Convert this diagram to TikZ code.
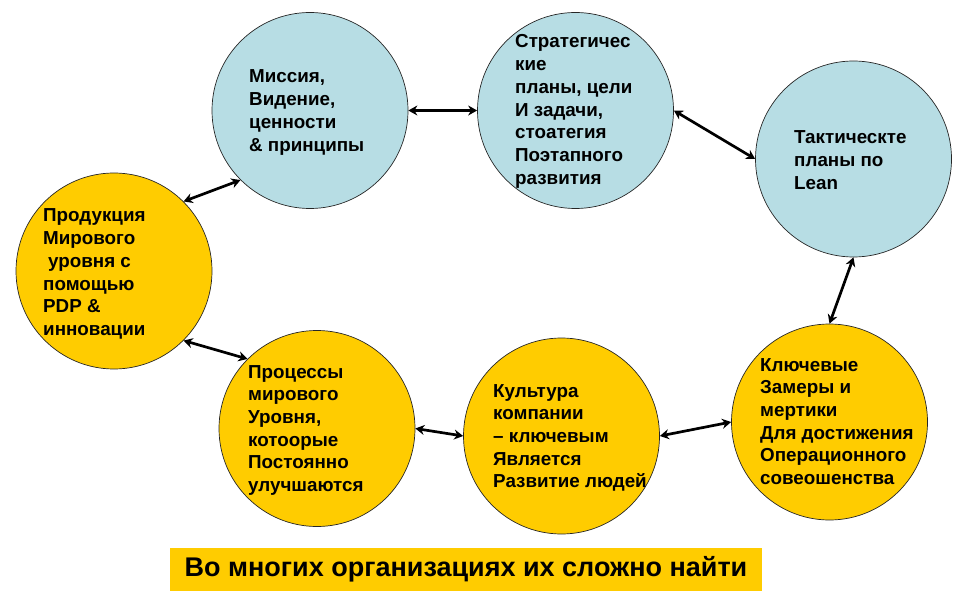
\documentclass[tikz,border=0pt]{standalone}
\usepackage{fontspec}
\setmainfont{Liberation Sans}
\usetikzlibrary{arrows.meta}
\definecolor{cblue}{RGB}{183,221,228}
\definecolor{cyel}{RGB}{255,204,0}
\begin{document}
\begin{tikzpicture}[x=1pt,y=-1pt,
  bub/.style={circle, draw=black!85, line width=0.7pt, minimum size=196pt, inner sep=0pt},
  bubblue/.style={bub, fill=cblue},
  bubyel/.style={bub, fill=cyel},
  txt/.style={anchor=base west, align=left, inner sep=0pt, font=\bfseries\fontsize{18.8}{22.7}\selectfont},
  link/.style={{Stealth[length=9pt,width=10pt]}-{Stealth[length=9pt,width=10pt]}, line width=2.7pt}]
\useasboundingbox (0,0) rectangle (963,601);
\node[bubblue] (c1) at (310,110.5) {};
\node[bubblue] (c2) at (575.5,110.5) {};
\node[bubblue] (c3) at (853.5,159) {};
\node[bubyel] (c4) at (114,271) {};
\node[bubyel] (c5) at (317,428.5) {};
\node[bubyel] (c6) at (561.5,436) {};
\node[bubyel] (c7) at (829.5,422) {};
% base anchor = baseline of the last line
\node[txt] (t1) at (249,151.1) {Миссия,\\Видение,\\ценности\\\& принципы};
\node[txt] (t2) at (515,184.2) {Стратегичес\\кие\\планы, цели\\И задачи,\\стоатегия\\Поэтапного\\развития};
\node[txt] (t3) at (794,189.4) {Тактическте\\планы по\\Lean};
\node[txt] (t4) at (43,335.5) {Продукция\\Мирового\\\hspace*{5pt}уровня с\\помощью\\PDP \&\\инновации};
\node[txt] (t5) at (248,491.5) {Процессы\\мирового\\Уровня,\\котоорые\\Постоянно\\улучшаются};
\node[txt] (t6) at (493,487.8) {Культура\\компании\\– ключевым\\Является\\Развитие людей};
\node[txt] (t7) at (760,484.5) {Ключевые\\Замеры и\\мертики\\Для достижения\\Операционного\\совеошенства};
\node[rectangle, fill=cyel, minimum width=592pt, minimum height=43pt, inner sep=0pt,
  font=\bfseries\fontsize{27}{31}\selectfont] (bn) at (466,569.5) {Во многих организациях их сложно найти};
\draw[link] (c1.east) -- (c2.west);
\draw[link] (c2.east) -- (c3.west);
\draw[link] (c3.south) -- (c7.north);
\draw[link] (c7.west) -- (c6.east);
\draw[link] (c6.west) -- (c5.east);
\draw[link] (c5.135) -- (c4.-45);
\draw[link] (c4.45) -- (c1.225);
\end{tikzpicture}
\end{document}
